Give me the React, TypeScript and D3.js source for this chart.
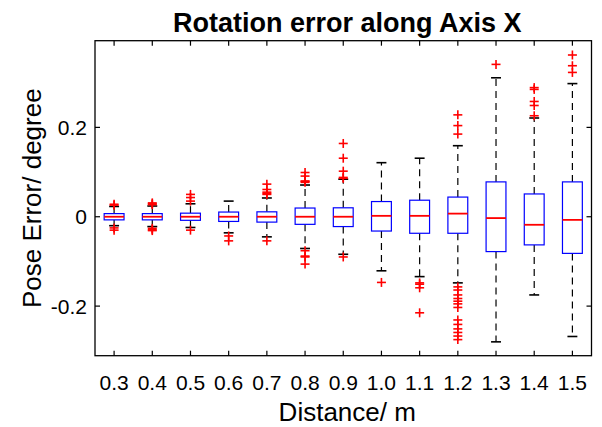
import React from "react";
import * as d3 from "d3";

const categories = ["0.3", "0.4", "0.5", "0.6", "0.7", "0.8", "0.9", "1.0", "1.1", "1.2", "1.3", "1.4", "1.5"];
const q1 = [-0.007, -0.007, -0.008, -0.0105, -0.012, -0.017, -0.022, -0.032, -0.037, -0.037, -0.078, -0.063, -0.082];
const medians = [0, 0, 0, 0, 0, 0, 0, 0.002, 0.002, 0.007, -0.003, -0.018, -0.007];
const q3 = [0.007, 0.007, 0.008, 0.0105, 0.011, 0.0195, 0.02, 0.034, 0.037, 0.044, 0.078, 0.051, 0.078];
const whiskerLow = [-0.02, -0.022, -0.024, -0.036, -0.045, -0.071, -0.084, -0.121, -0.134, -0.148, -0.28, -0.175, -0.268];
const whiskerHigh = [0.023, 0.024, 0.029, 0.035, 0.042, 0.071, 0.084, 0.121, 0.131, 0.159, 0.311, 0.221, 0.298];
const outliers = [
  [0.026, 0.028, -0.025, -0.03],
  [0.027, 0.029, 0.031, -0.026, -0.029, -0.031],
  [0.035, 0.043, 0.05, -0.03],
  [-0.043, -0.054],
  [0.05, 0.052, 0.055, 0.061, 0.073, -0.054],
  [0.077, 0.079, 0.08, 0.091, 0.099, -0.076, -0.088, -0.09, -0.106],
  [0.086, 0.088, 0.102, 0.131, 0.164, -0.09],
  [-0.147],
  [-0.148, -0.151, -0.159, -0.215],
  [0.185, 0.204, 0.228, -0.157, -0.164, -0.175, -0.183, -0.189, -0.195, -0.203, -0.231, -0.241, -0.251, -0.259, -0.267, -0.275],
  [0.341],
  [0.226, 0.249, 0.258, 0.285, 0.289],
  [0.323, 0.338, 0.362],
];
const yTicks = [-0.2, 0, 0.2];
const yTickLabels = ["-0.2", "0", "0.2"];
const yDomain = [-0.311, 0.394];

const titleText = "Rotation error along Axis X";
const xLabel = "Distance/ m";
const yLabel = "Pose Error/ degree";

const W = 602;
const H = 427;
const L = 95;
const R = 591.5;
const T = 40.7;
const B = 355.7;
const FONT = "'Liberation Sans', Arial, Helvetica, sans-serif";

export default function App() {
  const x = d3.scaleBand<string>().domain(categories).range([L, R]).padding(0);
  const y = d3.scaleLinear().domain(yDomain).range([B, T]);
  const bw = x.bandwidth();
  const boxW = bw * 0.52;
  const capW = bw * 0.26;
  const cs = 4.5;

  return (
    <div>
      <style>{`body{margin:0;background:#fff}`}</style>
      <svg width={W} height={H} style={{ display: "block", fontFamily: FONT }}>
        <rect x={0} y={0} width={W} height={H} fill="#fff" />
        {categories.map((c, i) => {
          const cx = (x(c) as number) + bw / 2;
          return (
            <g key={c}>
              <line x1={cx} x2={cx} y1={y(q3[i])} y2={y(whiskerHigh[i])} stroke="#000" strokeWidth={1.2} strokeDasharray="7,5" />
              <line x1={cx} x2={cx} y1={y(q1[i])} y2={y(whiskerLow[i])} stroke="#000" strokeWidth={1.2} strokeDasharray="7,5" />
              <line x1={cx - capW / 2} x2={cx + capW / 2} y1={y(whiskerHigh[i])} y2={y(whiskerHigh[i])} stroke="#000" strokeWidth={1.6} />
              <line x1={cx - capW / 2} x2={cx + capW / 2} y1={y(whiskerLow[i])} y2={y(whiskerLow[i])} stroke="#000" strokeWidth={1.6} />
              <rect x={cx - boxW / 2} y={y(q3[i])} width={boxW} height={y(q1[i]) - y(q3[i])} fill="#fff" stroke="#0000ff" strokeWidth={1.2} />
              <line x1={cx - boxW / 2} x2={cx + boxW / 2} y1={y(medians[i])} y2={y(medians[i])} stroke="#ff0000" strokeWidth={1.8} />
              {outliers[i].map((v, j) => (
                <g key={j} stroke="#ff0000" strokeWidth={1.6}>
                  <line x1={cx - cs} x2={cx + cs} y1={y(v)} y2={y(v)} />
                  <line x1={cx} x2={cx} y1={y(v) - cs} y2={y(v) + cs} />
                </g>
              ))}
            </g>
          );
        })}
        {/* axes frame */}
        <rect x={L} y={T} width={R - L} height={B - T} fill="none" stroke="#000" strokeWidth={1.3} />
        {categories.map((c) => {
          const cx = (x(c) as number) + bw / 2;
          return (
            <g key={"xt" + c}>
              <line x1={cx} x2={cx} y1={B} y2={B - 5} stroke="#000" strokeWidth={1.2} />
              <line x1={cx} x2={cx} y1={T} y2={T + 5} stroke="#000" strokeWidth={1.2} />
              <text x={cx} y={390} textAnchor="middle" fontSize={21} fill="#000">{c}</text>
            </g>
          );
        })}
        {yTicks.map((t, i) => (
          <g key={"yt" + t}>
            <line x1={L} x2={L + 5} y1={y(t)} y2={y(t)} stroke="#000" strokeWidth={1.2} />
            <line x1={R} x2={R - 5} y1={y(t)} y2={y(t)} stroke="#000" strokeWidth={1.2} />
            <text x={87} y={y(t)} dy="0.36em" textAnchor="end" fontSize={21} fill="#000">{yTickLabels[i]}</text>
          </g>
        ))}
        <text x={(L + R) / 2 + 4} y={32} textAnchor="middle" fontSize={27} fontWeight="bold" fill="#000">{titleText}</text>
        <text x={(L + R) / 2 + 4} y={421} textAnchor="middle" fontSize={26} fill="#000">{xLabel}</text>
        <text transform={`translate(41, ${(T + B) / 2}) rotate(-90)`} textAnchor="middle" fontSize={26} fill="#000">{yLabel}</text>
      </svg>
    </div>
  );
}
